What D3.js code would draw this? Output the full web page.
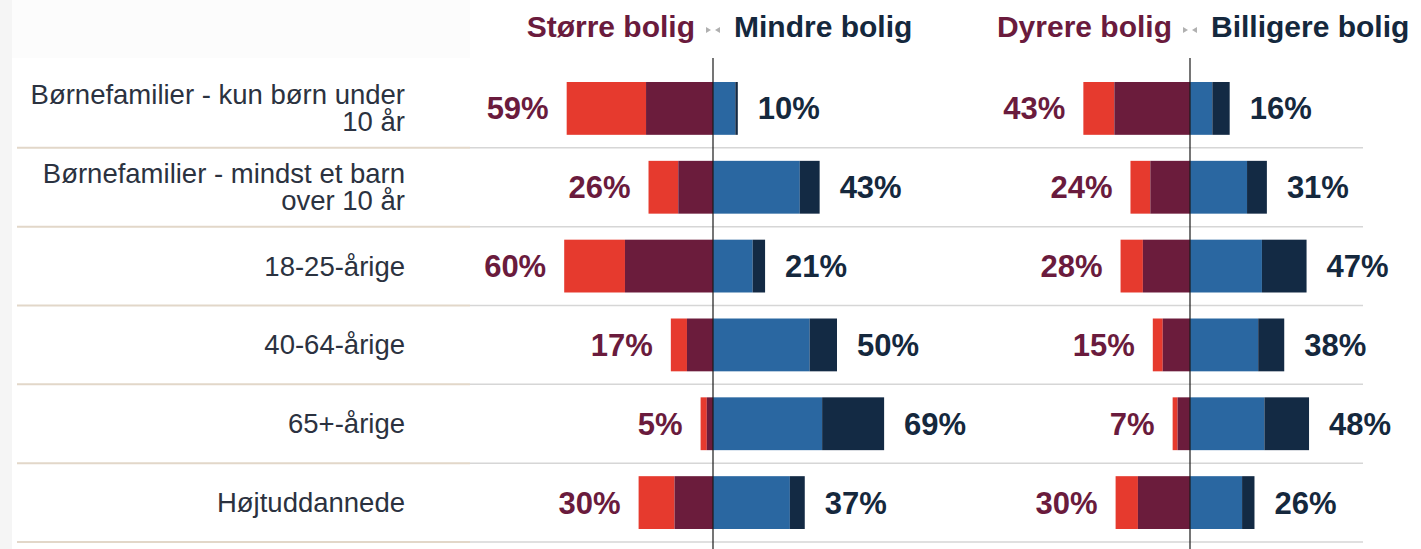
<!DOCTYPE html>
<html>
<head>
<meta charset="utf-8">
<script src="https://cdn.jsdelivr.net/npm/d3@7"></script>
<style>
  html, body { margin: 0; padding: 0; background: #ffffff; }
  svg { display: block; font-family: "Liberation Sans", Arial, sans-serif; }
</style>
</head>
<body>
<svg id="chart" width="1421" height="549"></svg>
<script>
// ---- Data ----
const categories = [
  "Børnefamilier - kun børn under|10 år",
  "Børnefamilier - mindst et barn|over 10 år",
  "18-25-årige",
  "40-64-årige",
  "65+-årige",
  "Højtuddannede"
];
// Panel 1: Større bolig (split in two shades) vs Mindre bolig (two shades)
const largerStrong = [32, 12, 24.5, 6.5, 2.5, 14.5];
const largerSome   = [27, 14, 35.5, 10.5, 2.5, 15.5];
const smallerSome  = [9, 35, 16, 39, 44, 31];
const smallerStrong= [1, 8, 5, 11, 25, 6];
const largerTotal  = [59, 26, 60, 17, 5, 30];
const smallerTotal = [10, 43, 21, 50, 69, 37];
// Panel 2: Dyrere bolig vs Billigere bolig
const dearerStrong = [12.5, 8, 9, 4, 2, 9];
const dearerSome   = [30.5, 16, 19, 11, 5, 21];
const cheaperSome  = [9, 23, 29, 27.5, 30, 21];
const cheaperStrong= [7, 8, 18, 10.5, 18, 5];
const dearerTotal  = [43, 24, 28, 15, 7, 30];
const cheaperTotal = [16, 31, 47, 38, 48, 26];
const panelTitles = [["Større bolig", "Mindre bolig"], ["Dyrere bolig", "Billigere bolig"]];

// ---- Styles ----
const C = { red: "#e63a2e", maroon: "#6b1c3c", blue: "#2a67a1", navy: "#132a44",
            txtL: "#6a1b3d", txtR: "#15283d", label: "#2b3240" };

const svg = d3.select("#chart");
const W = 1421, H = 549;

// faint background framing
svg.append("rect").attr("x", 0).attr("y", 0).attr("width", W).attr("height", H).attr("fill", "#ffffff");
svg.append("rect").attr("x", 0).attr("y", 0).attr("width", 470).attr("height", 58).attr("fill", "#fcfcfc");
svg.append("rect").attr("x", 0).attr("y", 0).attr("width", 12).attr("height", H).attr("fill", "#f5f5f5");
svg.append("rect").attr("x", 12).attr("y", 58).attr("width", 458).attr("height", H - 58).attr("fill", "#ffffff");

const y = d3.scaleBand().domain(d3.range(categories.length)).range([69, 542])
  .paddingInner(0.33).paddingOuter(0.165);
const step = y.step();

// divider lines
const rowBottoms = d3.range(categories.length).map(i => y(i) - y.step() * y.paddingInner() / 2 + step);
svg.append("g").selectAll("line.l").data(rowBottoms).join("line")
  .attr("x1", 17).attr("x2", 470).attr("y1", d => d).attr("y2", d => d)
  .attr("stroke", "#e2d7c9").attr("stroke-width", 2);
svg.append("g").selectAll("line.r").data(rowBottoms).join("line")
  .attr("x1", 470).attr("x2", 1363).attr("y1", d => d).attr("y2", d => d)
  .attr("stroke", "#d6d6d6").attr("stroke-width", 1.5);

// row labels
const lab = svg.append("g");
categories.forEach((c, i) => {
  const lines = c.split("|");
  const cy = y(i) + y.bandwidth() / 2;
  const lh = 27;
  const t = lab.append("text").attr("text-anchor", "end").attr("fill", C.label)
    .attr("font-size", 27.5).attr("x", 405);
  lines.forEach((ln, k) => {
    t.append("tspan").attr("x", 405)
      .attr("y", cy + 9.5 + (k - (lines.length - 1) / 2) * lh)
      .text(ln);
  });
});

const x = d3.scaleLinear().domain([0, 100]).range([0, 248]);

function panel(cx, leftA, leftB, rightA, rightB, leftTot, rightTot, titles) {
  const g = svg.append("g");
  categories.forEach((c, i) => {
    const top = y(i), h = y.bandwidth();
    const segs = [
      { x0: cx - x(leftA[i] + leftB[i]), w: x(leftA[i]), f: C.red },
      { x0: cx - x(leftB[i]), w: x(leftB[i]), f: C.maroon },
      { x0: cx, w: x(rightA[i]), f: C.blue },
      { x0: cx + x(rightA[i]), w: x(rightB[i]), f: C.navy }
    ];
    g.selectAll(null).data(segs).join("rect")
      .attr("x", d => d.x0).attr("y", top).attr("width", d => d.w).attr("height", h)
      .attr("fill", d => d.f);
    const cy = top + h / 2;
    g.append("text").attr("x", cx - x(leftA[i] + leftB[i]) - 18).attr("y", cy + 11)
      .attr("text-anchor", "end").attr("font-weight", "bold").attr("font-size", 31)
      .attr("fill", C.txtL).text(leftTot[i] + "%");
    g.append("text").attr("x", cx + x(rightA[i] + rightB[i]) + 20).attr("y", cy + 11)
      .attr("text-anchor", "start").attr("font-weight", "bold").attr("font-size", 31)
      .attr("fill", C.txtR).text(rightTot[i] + "%");
  });
  // center axis line
  g.append("line").attr("x1", cx).attr("x2", cx).attr("y1", 58).attr("y2", H)
    .attr("stroke", "#1a1a1a").attr("stroke-width", 1.2);
  // titles
  g.append("text").attr("x", cx - 18).attr("y", 37).attr("text-anchor", "end")
    .attr("font-weight", "bold").attr("font-size", 30).attr("fill", C.txtL).text(titles[0]);
  g.append("text").attr("x", cx + 21).attr("y", 37).attr("text-anchor", "start")
    .attr("font-weight", "bold").attr("font-size", 30).attr("fill", C.txtR).text(titles[1]);
  // small arrows
  g.append("path").attr("d", `M${cx - 7},${27} l5,3 l-5,3 z`).attr("fill", "#b0b0b0");
  g.append("path").attr("d", `M${cx + 7},${27} l-5,3 l5,3 z`).attr("fill", "#b0b0b0");
}

panel(713, largerStrong, largerSome, smallerSome, smallerStrong, largerTotal, smallerTotal, panelTitles[0]);
panel(1190, dearerStrong, dearerSome, cheaperSome, cheaperStrong, dearerTotal, cheaperTotal, panelTitles[1]);
</script>
</body>
</html>
